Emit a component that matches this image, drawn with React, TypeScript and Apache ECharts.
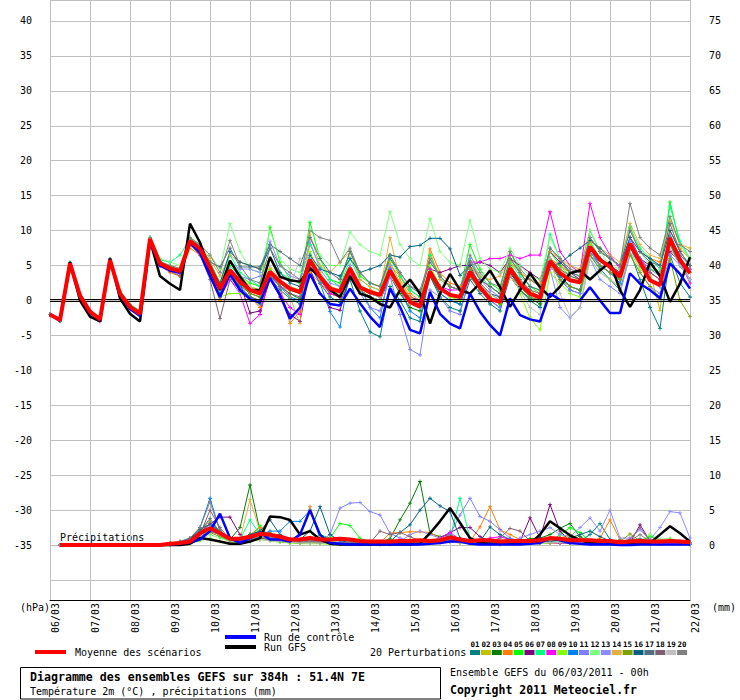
import React, { useEffect, useRef } from "react";
import * as echarts from "echarts";

// Time axis (hours since 06/03/2011 00h)
const HOURS = [0,6,12,18,24,30,36,42,48,54,60,66,72,78,84,90,96,102,108,114,120,126,132,138,144,150,156,162,168,174,180,186,192,198,204,210,216,222,228,234,240,246,252,258,264,270,276,282,288,294,300,306,312,318,324,330,336,342,348,354,360,366,372,378,384];
const DATE_LABELS = ["06/03","07/03","08/03","09/03","10/03","11/03","12/03","13/03","14/03","15/03","16/03","17/03","18/03","19/03","20/03","21/03","22/03"];
const LEFT_TICKS_MIN = -35;
const LEFT_TICKS_MAX = 40;
const RIGHT_TICKS_MIN = 0;
const RIGHT_TICKS_MAX = 75;

// 2m temperature (°C)
const MEAN_T = [-2.0,-2.8,5.3,0.7,-1.6,-2.7,5.8,1.0,-0.9,-1.9, 8.8,5.3,4.6,4.2, 8.5,7.4,4.8,1.7, 4.3,2.7,1.5,1.0, 4.1,2.7,1.7,1.2, 5.8,3.4,1.7,1.3, 4.6,1.9,1.2,0.8, 4.3,1.9,-0.2,-0.9, 4.1,1.7,0.8,0.5, 4.1,1.9,0.2,-0.2, 4.6,2.4,1.0,0.4, 5.6,3.9,2.9,2.6, 7.7,5.8,4.8,3.4, 8.1,5.5,2.9,2.2, 8.9,5.8,3.9];
const GFS_T = [-2.0,-2.8,5.5,0.0,-2.3,-3.0,6.0,0.3,-1.9,-3.0, 8.6,3.5,2.4,1.5, 11.0,8.3,4.3,1.5, 5.7,3.4,1.5,1.5, 6.2,3.4,2.9,2.7, 4.6,3.4,1.5,0.5, 3.5,1.0,0.5,-0.5, -1.0,1.5,3.0,1.0, -3.3,1.0,3.8,1.5, 1.0,2.5,4.3,1.9, -0.9,1.5,3.9,1.9, 0.5,2.0,3.9,4.3, 3.0,4.3,5.5,1.5, -0.9,1.5,5.5,3.5, -0.2,2.4,6.2];
const CTRL_T = [-2.0,-2.9,5.3,0.5,-1.8,-2.8,5.8,0.8,-1.2,-2.2, 8.5,5.0,4.3,4.0, 8.3,6.8,3.5,0.5, 3.8,1.5,0.2,-0.3, 3.2,0.8,-2.6,-1.0, 3.8,1.0,-0.5,-0.7, 1.7,-0.4,-2.3,-3.8, 1.7,-0.9,-4.2,-4.7, 1.2,-1.9,-3.3,-4.0, 1.0,-1.6,-3.5,-5.0, 0.3,-2.1,-2.7,-3.0, 1.0,0.1,0.0,0.0, 1.9,0.0,-1.8,-1.8, 3.9,2.4,1.5,0.3, 5.3,3.8,1.7];

const T01 = [-2.0,-2.9,5.3,0.6,-1.7,-2.7,5.8,1.0,-1.0,-2.0, 8.9,5.0,4.4,4.0, 8.0,7.0,4.0,0.5, 3.5,1.5,0.2,-0.5, 3.2,1.5,0.3,-0.5, 5.0,2.5,0.5,-0.3, 3.0,-1.5,-4.5,-5.2, 2.0,0.0,-2.5,-3.0, 3.5,0.5,-1.0,-1.5, 3.0,1.0,-0.5,-1.5, 3.5,1.5,0.0,-1.0, 6.0,3.0,1.5,1.0, 6.5,4.5,3.0,1.5, 7.0,3.0,-1.0,-4.0, 6.5,2.5,0.5];
const T02 = [-2.0,-2.8,5.4,0.8,-1.5,-2.5,5.9,1.2,-0.7,-1.6, 8.7,5.5,4.8,4.5, 8.8,7.8,5.5,2.5, 5.5,3.5,2.0,1.5, 4.5,3.0,2.0,1.5, 6.0,4.0,2.0,1.5, 5.0,2.0,1.5,1.0, 5.5,2.5,0.5,-0.5, 4.5,2.0,1.0,0.5, 4.5,2.5,1.0,0.0, 5.0,3.0,1.5,0.5, 6.0,4.5,3.0,2.5, 8.0,6.0,5.0,3.5, 9.0,6.0,4.0,-1.4, 9.5,6.0,4.0];
const T03 = [-2.0,-2.9,5.3,0.5,-1.9,-2.8,5.7,0.9,-1.1,-2.1, 8.8,5.2,4.5,4.1, 8.2,7.0,4.5,1.0, 3.8,2.2,1.0,0.5, 3.8,2.0,1.0,0.2, 5.5,3.0,1.0,0.5, 4.0,1.5,0.5,0.0, 3.5,1.0,-1.0,-1.5, 3.5,1.0,0.0,-0.5, 3.5,1.5,0.5,-0.5, 3.5,1.5,0.3,-0.5, 5.0,3.5,2.0,1.5, 7.0,5.0,4.0,3.0, 7.5,5.0,3.0,2.0, 8.0,5.0,3.0];
const T04 = [-2.0,-2.8,5.3,0.7,-1.6,-2.6,5.8,1.0,-1.0,-2.0, 8.6,5.0,4.0,3.5, 7.5,6.5,3.5,0.0, 4.0,2.0,0.5,-1.0, 4.5,2.0,-3.3,-1.5, 4.0,2.5,1.0,0.5, 5.0,2.0,1.5,1.0, 5.0,3.5,1.0,0.0, 7.4,4.0,2.5,2.0, 5.0,3.0,2.0,1.0, 5.5,4.0,3.0,2.0, 6.0,5.0,4.0,4.5, 10.0,7.0,6.0,5.0, 10.5,7.0,6.0,5.5, 10.0,7.4,6.0];
const T05 = [-2.0,-2.9,5.3,0.6,-1.7,-2.6,5.8,1.1,-0.8,-1.7, 9.0,5.5,5.0,4.5, 9.0,8.0,5.0,1.5, 5.0,3.5,2.5,2.0, 10.5,5.5,3.0,2.5, 11.2,6.0,3.0,2.5, 7.0,3.5,2.5,2.0, 6.5,3.5,1.5,0.5, 6.5,3.5,2.0,1.5, 8.0,4.5,2.5,1.5, 7.0,4.0,2.0,1.0, 7.0,5.0,3.5,3.0, 8.5,6.0,5.0,4.0, 9.0,6.0,4.5,4.0, 14.1,8.0,6.0];
const T06 = [-2.0,-2.8,5.3,0.7,-1.6,-2.6,5.8,1.0,-0.9,-1.8, 8.8,5.3,4.6,4.0, 8.3,7.2,5.0,2.5, 4.0,2.5,-1.8,-1.5, 3.0,0.5,-2.0,-3.0, 4.5,1.0,-1.0,-1.4, 3.5,1.5,0.5,0.0, 3.5,1.5,0.5,0.0, 4.5,4.0,4.5,5.0, 5.0,5.5,5.0,4.0, 6.0,5.0,4.0,3.0, 7.0,5.5,4.0,3.0, 7.5,6.0,5.0,4.0, 7.5,6.0,5.0,4.0, 7.0,5.5,4.5];
const T07 = [-2.0,-2.8,5.4,0.8,-1.5,-2.4,5.9,1.3,-0.6,-1.5, 9.0,5.8,5.5,6.5, 8.8,7.8,5.5,2.5, 6.5,4.0,3.0,2.0, 6.0,4.0,3.0,2.5, 8.0,5.0,3.0,2.0, 6.0,3.0,2.0,1.5, 6.0,3.5,1.5,0.5, 6.5,3.0,2.0,1.5, 6.0,3.5,2.0,1.0, 5.5,3.5,2.0,1.5, 9.5,6.0,4.0,3.5, 10.0,7.0,6.0,5.0, 10.5,7.5,6.0,4.5, 13.5,8.5,6.0];
const T08 = [-2.0,-2.9,5.3,0.5,-1.8,-3.0,5.7,0.9,-1.0,-1.9, 8.7,5.0,4.2,3.8, 8.0,6.8,4.0,0.5, 3.0,1.0,-3.3,-2.0, 3.5,1.0,-1.0,-2.0, 5.5,3.0,1.0,0.5, 4.0,1.5,0.5,0.0, 4.5,2.0,-0.5,-1.0, 4.5,2.0,1.5,1.5, 5.5,5.5,6.0,6.0, 6.5,6.0,6.5,6.5, 12.7,7.0,5.0,4.0, 13.9,9.0,6.5,4.5, 9.0,6.0,4.0,3.0, 9.0,5.5,2.5];
const T09 = [-2.0,-2.9,5.2,0.5,-1.8,-2.8,5.7,0.9,-1.0,-2.0, 8.8,5.2,4.5,4.0, 8.2,7.0,3.5,0.5, 1.0,1.0,0.5,0.0, 4.5,2.5,1.5,1.0, 7.0,3.5,1.5,1.0, 4.5,1.5,0.5,0.0, 4.0,1.5,-0.5,-1.0, 5.0,2.0,0.5,0.0, 4.5,2.0,0.5,-0.5, 6.0,1.0,-2.5,-4.2, 4.0,2.5,1.0,0.5, 6.0,4.0,3.0,2.0, 7.0,4.5,3.0,2.0, 8.5,5.0,3.0];
const T10 = [-2.0,-2.9,5.3,0.6,-1.7,-2.7,5.8,1.0,-0.9,-1.9, 8.8,5.1,4.5,4.1, 8.4,7.2,4.5,1.2, 3.5,2.0,0.5,0.0, 3.5,2.0,0.5,0.0, 5.0,2.5,-1.6,-3.8, 4.5,2.0,-1.0,-2.5, 4.5,1.5,-1.5,-2.5, 4.0,1.0,0.0,-0.5, 4.0,1.5,0.0,-1.0, 4.0,2.0,0.5,0.0, 5.5,3.5,2.0,1.5, 7.5,5.0,4.0,2.5, 7.5,5.0,3.0,2.0, 8.5,5.0,3.0];
const T11 = [-2.0,-2.8,5.3,0.7,-1.6,-2.6,5.8,1.0,-0.9,-1.9, 8.8,5.4,4.7,4.3, 8.6,7.5,5.0,2.0, 4.5,3.5,3.0,3.5, 4.0,2.0,1.5,1.0, 6.0,3.0,1.5,1.0, 4.5,1.0,-1.0,-1.5, 3.5,-2.0,-7.0,-7.8, 1.5,0.5,-1.5,-2.0, 4.0,1.5,0.0,-1.0, 4.5,2.0,0.5,0.0, 5.0,3.0,1.5,1.0, 7.0,5.0,4.0,3.0, 8.5,6.0,4.5,3.5, 9.5,5.5,3.0];
const T12 = [-2.0,-2.8,5.4,0.9,-1.4,-2.4,6.0,1.4,-0.5,-1.4, 9.0,6.0,5.5,5.0, 9.0,8.0,6.5,4.5, 11.0,7.0,4.5,4.0, 10.0,6.0,4.5,4.0, 9.0,6.5,5.0,5.0, 9.8,8.0,7.0,6.5, 12.7,8.0,6.0,5.0, 11.7,7.0,5.5,5.0, 11.5,6.0,4.5,4.0, 7.5,5.0,3.5,3.0, 9.0,6.0,4.0,3.5, 10.0,7.0,5.0,4.5, 11.0,7.0,5.0,4.0, 12.0,8.0,6.0];
const T13 = [-2.0,-2.9,5.3,0.6,-1.7,-2.7,5.8,1.0,-0.9,-1.9, 8.8,5.3,4.6,4.2, 8.5,7.5,5.0,2.0, 5.5,4.5,4.5,4.0, 8.5,5.0,3.5,3.0, 8.4,4.5,2.5,2.0, 5.0,2.0,1.0,0.5, 5.0,2.0,0.0,-1.0, 4.0,2.0,1.0,0.5, 6.0,3.0,1.5,0.5, 4.0,2.0,1.0,0.0, 4.5,-1.0,-2.5,-1.0, 6.0,3.0,2.0,1.0, 6.5,4.0,2.0,1.0, 6.5,5.0,4.5];
const T14 = [-2.0,-2.8,5.3,0.8,-1.5,-2.5,5.9,1.1,-0.7,-1.7, 8.9,5.5,4.8,4.5, 8.8,7.8,6.0,3.5, 6.5,5.5,5.0,4.5, 6.0,3.0,0.5,-3.3, 9.5,5.0,4.0,5.5, 7.0,3.0,2.0,1.5, 9.0,3.0,0.5,-0.5, 7.0,3.0,2.0,1.5, 5.5,3.5,3.0,3.5, 6.0,4.0,3.0,2.5, 7.0,6.0,5.0,4.5, 8.5,7.5,6.5,5.5, 11.0,8.0,6.5,6.0, 11.5,8.0,7.5];
const T15 = [-2.0,-2.9,5.3,0.6,-1.7,-2.7,5.8,1.0,-0.9,-1.9, 8.8,5.3,4.6,4.1, 8.4,7.3,4.5,1.5, 4.0,2.5,1.0,0.5, 4.0,2.5,1.5,1.0, 5.5,3.0,1.5,1.0, 4.5,2.0,1.0,0.5, 4.0,2.0,0.0,-0.5, 4.0,2.0,1.0,0.5, 3.5,1.5,0.5,-0.5, 3.5,2.0,0.5,0.0, 5.0,3.0,2.0,1.5, 6.5,5.0,4.0,3.0, 6.5,4.0,2.0,0.5, 6.0,0.0,-2.3];
const T16 = [-2.0,-2.8,5.3,0.7,-1.6,-2.6,5.8,1.0,-0.9,-1.8, 8.7,5.2,4.5,4.1, 8.3,7.0,5.0,2.5, 7.0,5.5,5.0,4.5, 7.5,4.0,2.5,2.0, 6.5,4.5,4.0,3.5, 6.0,4.0,4.5,5.0, 6.5,6.2,7.7,7.9, 8.9,8.9,7.4,3.6, 5.0,2.0,1.0,0.5, 4.0,2.0,1.0,0.5, 5.0,5.3,6.5,7.5, 8.6,7.5,6.0,5.0, 9.0,7.0,6.0,5.0, 10.0,7.0,5.0];
const T17 = [-2.0,-2.8,5.3,0.8,-1.5,-2.5,5.9,1.2,-0.7,-1.6, 8.8,5.4,4.8,4.4, 8.8,7.8,5.5,4.8, 7.5,4.8,4.8,4.8, 8.0,7.0,6.0,5.0, 9.0,6.0,4.0,3.0, 7.0,4.0,2.5,2.0, 6.0,4.0,2.0,1.0, 5.5,3.5,2.0,1.5, 5.5,3.0,2.0,1.0, 6.0,4.0,2.0,1.5, 7.5,6.0,4.0,3.5, 9.0,7.0,6.0,5.0, 10.0,7.0,5.5,5.0, 11.0,7.0,5.0];
const T18 = [-2.0,-2.9,5.3,0.6,-1.8,-2.8,5.7,0.9,-1.0,-2.0, 8.7,5.0,4.2,3.5, 8.0,6.5,3.0,-2.6, 3.0,1.5,0.5,0.0, 3.5,2.0,1.0,0.5, 5.0,3.0,1.5,1.0, 4.5,2.0,1.0,0.5, 4.0,2.0,0.0,-0.5, 4.0,2.0,1.0,0.5, 4.5,2.5,1.0,0.0, 5.0,3.0,1.5,1.0, 6.0,4.5,3.5,3.0, 7.5,6.0,5.0,4.0, 8.0,5.5,4.0,3.0, 9.0,6.5,5.0];
const T19 = [-2.0,-2.8,5.3,0.7,-1.6,-2.6,5.8,1.0,-0.9,-1.9, 8.8,5.3,4.6,4.2, 8.5,7.5,5.0,1.5, 4.0,3.0,2.0,1.0, 5.0,3.0,2.0,6.0, 5.5,3.0,1.5,1.0, 4.0,2.0,1.0,0.5, 3.5,1.5,0.0,-1.0, 4.0,2.0,1.0,0.5, 4.0,2.0,1.0,0.0, 3.5,1.5,-1.0,-2.0, 6.0,1.0,-2.3,-1.0, 6.0,4.0,3.0,2.0, 7.0,5.0,3.0,2.0, 7.5,5.0,3.0];
const T20 = [-2.0,-2.8,5.4,0.8,-1.5,-2.5,5.9,1.2,-0.6,-1.5, 9.0,5.6,5.0,4.6, 9.0,8.0,6.5,4.0, 8.6,5.0,3.0,2.5, 7.5,5.0,4.0,3.0, 10.0,9.0,8.6,5.5, 7.5,4.0,2.5,2.0, 6.5,4.0,2.0,1.5, 6.0,3.5,2.0,1.5, 6.5,4.0,2.5,2.0, 7.0,4.5,3.0,2.0, 7.5,6.0,4.5,4.0, 9.0,7.0,6.0,5.0, 13.9,9.0,7.5,6.5, 12.0,8.0,7.0];

// 6-hourly precipitation (mm); first 12 steps (no value at 0h, then dry)
const PREC_LEAD = [null,0,0,0,0,0,0,0,0,0,0,0];
const MEAN_R = [0.2,0.3,0.5,1.7,2.4,1.7,0.9,0.9,1.2,1.6, 1.5,1.2,0.8,0.8,1.0,0.8,0.8,0.9,0.8,0.6, 0.5,0.5,0.5,0.6,0.6,0.7,0.6,0.7,1.1,0.8, 0.6,0.7,0.7,0.5,0.6,0.6,0.6,0.7,1.0,0.9, 0.7,0.7,0.7,0.6,0.6,0.4,0.5,0.6,0.5,0.5, 0.6,0.5,0.4];
const GFS_R = [0.0,0.0,0.2,1.0,0.8,0.5,0.2,0.2,0.5,1.0, 4.1,4.0,3.6,1.5,2.0,0.8,0.2,0.1,0.1,0.1, 0.1,0.1,0.1,0.1,0.1,0.2,1.7,3.4,5.3,3.2, 1.0,0.3,0.2,0.2,0.2,0.2,0.2,1.5,3.4,2.4, 1.4,0.7,0.3,0.3,0.3,0.3,0.3,0.3,0.3,1.5, 2.7,1.7,0.5];
const CTRL_R = [0.1,0.2,0.4,0.8,2.0,4.5,1.0,0.3,1.0,1.8, 0.8,0.8,0.5,1.5,5.0,1.5,0.3,0.2,0.1,0.1, 0.1,0.1,0.1,0.1,0.1,0.1,0.2,0.3,0.5,0.5, 0.2,0.1,0.1,0.1,0.1,0.1,0.2,0.3,1.0,0.7, 0.3,0.2,0.1,0.1,0.1,0.0,0.0,0.1,0.1,0.1, 0.1,0.1,0.1];
const R01 = [0.2,0.4,0.8,2.0,3.5,1.5,0.8,0.6,1.5,2.0, 1.5,0.8,0.5,0.3,0.8,0.5,0.3,0.2,0.2,0.2, 0.2,0.2,0.3,0.5,0.6,0.5,0.4,0.6,0.8,0.5, 0.3,0.2,0.2,0.2,0.3,0.5,0.6,0.3,0.5,0.4, 0.3,0.6,1.5,3.1,0.8,0.4,0.3,0.3,0.2,0.2, 0.3,0.2,0.1];
const R02 = [0.1,0.3,0.5,1.5,2.0,1.5,0.5,0.8,1.0,1.2, 1.8,1.0,0.6,0.5,1.0,0.6,0.4,0.3,0.2,0.2, 0.2,0.1,0.1,0.2,0.3,0.3,0.4,0.5,0.6,0.4, 0.3,0.3,0.2,0.1,0.2,0.3,0.3,0.2,0.6,1.0, 1.5,0.8,0.3,0.2,0.3,0.4,0.5,0.5,0.8,0.6, 0.5,0.3,0.2];
const R03 = [0.2,0.3,0.6,1.2,2.0,1.5,0.8,2.5,8.6,2.0, 1.0,0.6,0.5,0.4,0.8,0.6,0.5,0.8,0.6,0.5, 0.5,0.4,0.9,3.6,6.0,9.1,1.7,1.2,1.5,0.8, 0.5,0.4,0.3,0.3,0.5,0.7,0.9,1.0,1.5,2.4, 3.1,1.2,0.5,0.3,0.3,0.2,0.3,0.4,0.5,0.4, 0.5,0.3,0.2];
const R04 = [0.1,0.3,0.8,2.2,3.0,1.5,0.5,0.4,1.5,2.5, 1.2,0.8,0.6,1.5,5.5,1.0,0.5,0.3,0.3,0.2, 0.2,0.3,1.7,1.8,1.9,1.9,1.8,1.0,0.5,0.4, 0.5,2.6,5.5,2.2,1.5,0.8,0.5,0.3,0.3,0.3, 0.4,0.3,0.3,1.0,3.6,0.8,0.4,0.3,0.3,0.2, 0.3,0.3,0.2];
const R05 = [0.2,0.3,0.5,1.0,2.5,1.8,0.6,0.5,1.0,2.8, 1.0,0.5,0.4,0.3,0.6,1.5,1.0,3.1,2.8,1.0, 0.3,0.2,0.2,0.3,0.4,0.4,0.3,0.5,0.6,0.4, 0.5,0.3,0.3,0.2,0.2,0.3,0.4,0.3,0.4,1.5, 2.5,1.8,0.6,0.4,0.3,0.3,0.3,0.4,1.2,0.8, 0.5,0.4,0.3];
const R06 = [0.1,0.3,0.6,1.8,3.0,4.0,4.0,1.5,0.6,0.8, 1.0,0.8,0.5,0.4,0.5,0.4,0.3,0.3,0.3,0.2, 0.2,0.2,0.2,0.3,0.4,0.5,0.5,1.0,1.8,2.5, 2.5,1.2,0.5,0.3,0.4,0.5,3.9,1.0,5.8,2.0, 0.6,0.4,0.3,0.3,0.3,0.3,0.3,2.9,0.6,0.3, 0.3,0.2,0.2];
const R07 = [0.1,0.3,0.6,1.5,2.5,1.2,0.6,0.8,3.6,1.5, 1.0,0.6,0.5,0.4,0.5,0.4,0.3,0.3,0.2,0.2, 0.2,0.2,0.3,0.3,0.3,0.3,0.3,0.5,1.0,6.7, 1.0,0.6,0.4,0.3,0.3,0.3,0.4,0.3,0.4,0.5, 0.5,0.4,0.3,0.3,0.3,0.3,0.4,0.5,0.6,0.5, 0.6,0.4,0.3];
const R08 = [0.1,0.2,0.5,1.2,2.0,1.5,0.8,0.6,0.8,1.0, 0.8,0.6,0.4,0.3,0.3,0.3,0.2,0.2,0.2,0.2, 0.2,0.2,0.2,0.2,0.3,0.3,0.5,1.0,1.8,0.8, 0.6,0.5,1.0,1.2,0.8,0.5,0.4,0.3,0.3,0.3, 0.3,0.3,0.2,0.2,0.3,0.3,0.2,0.2,0.2,0.2, 0.3,0.2,0.2];
const R09 = [0.0,0.1,0.3,0.6,1.0,0.5,0.3,0.3,0.5,0.8, 0.6,0.4,0.3,0.2,0.2,0.2,0.1,0.1,0.1,0.1, 0.1,0.1,0.2,0.2,0.2,0.3,0.3,0.4,0.5,0.3, 0.2,0.2,0.2,0.1,0.2,0.3,0.3,0.2,0.3,0.4, 0.4,0.3,0.3,0.2,0.3,0.3,0.4,0.3,1.5,0.6, 0.5,0.3,0.2];
const R10 = [0.2,0.5,1.0,2.5,6.7,2.0,0.8,0.7,1.0,1.5, 2.0,2.0,3.4,3.4,5.0,1.0,0.5,0.4,0.3,0.3, 0.2,0.2,0.2,0.3,0.3,0.3,0.4,0.5,0.6,0.4, 0.3,0.2,0.2,0.2,0.3,0.3,0.4,0.3,0.5,0.4, 0.3,0.3,0.2,0.2,0.3,0.3,0.3,0.3,0.2,0.2, 0.3,0.2,0.2];
const R11 = [0.1,0.2,0.5,1.0,2.0,1.5,0.6,0.5,0.8,1.0, 0.8,0.6,0.5,0.4,0.5,0.6,1.5,5.3,6.0,6.1, 4.8,4.3,1.7,1.0,0.6,0.5,0.5,0.8,1.5,4.3, 6.7,4.1,3.4,2.2,1.0,0.6,0.5,0.4,0.5,0.4, 0.3,0.3,0.3,0.3,0.4,0.3,0.3,0.3,0.2,0.2, 0.3,0.2,0.2];
const R12 = [0.0,0.2,0.4,0.8,1.5,1.0,0.5,0.4,0.6,0.8, 0.8,0.5,0.4,0.3,0.3,0.3,0.2,0.2,0.2,0.2, 0.1,0.1,0.2,0.2,0.2,0.3,0.3,0.5,0.8,0.6, 0.4,0.3,0.3,0.2,0.3,0.3,0.3,0.3,0.4,0.5, 0.5,0.4,0.3,0.3,0.4,0.4,0.5,0.6,1.5,0.8, 1.0,0.5,0.3];
const R13 = [0.2,0.4,0.8,1.5,3.0,2.0,0.8,0.6,1.0,1.2, 1.0,0.6,0.5,0.4,0.4,0.4,0.3,0.3,0.2,0.2, 0.2,0.2,0.3,0.5,1.5,2.0,1.5,1.0,0.8,0.5, 0.4,0.4,0.4,0.3,0.5,1.0,1.5,2.0,2.5,1.5, 1.2,2.5,3.9,2.0,5.0,1.0,1.0,2.2,0.8,2.5, 4.8,4.6,1.0];
const R14 = [0.1,0.3,0.7,1.8,3.5,2.0,0.8,0.8,6.5,2.0, 1.2,0.8,0.6,1.5,5.5,1.2,0.5,0.4,0.3,0.3, 0.2,0.2,0.2,0.3,0.3,0.3,0.4,0.4,0.5,0.4, 0.4,0.3,0.3,0.2,0.3,0.4,0.5,0.5,0.8,1.0, 1.2,0.8,0.5,0.4,0.5,0.4,0.4,0.5,0.4,0.3, 0.4,0.3,0.2];
const R15 = [0.1,0.2,0.5,1.0,1.8,1.2,0.6,0.5,0.7,1.0, 0.8,0.5,0.4,0.3,0.4,0.3,0.3,0.2,0.2,0.2, 0.2,0.2,0.2,0.2,0.3,0.3,0.3,0.4,0.6,0.5, 0.4,0.3,0.3,0.3,0.3,0.3,0.4,0.4,0.6,0.8, 1.0,0.8,0.5,0.4,0.5,0.5,1.6,0.6,0.5,0.4, 0.8,0.6,0.3];
const R16 = [0.2,0.4,0.9,2.2,3.0,2.0,1.0,0.8,1.5,2.0, 3.6,1.5,0.8,0.8,2.0,5.5,1.5,0.6,0.4,0.3, 0.3,0.3,0.5,1.8,2.9,5.0,6.7,5.6,4.8,1.0, 0.6,0.5,2.6,1.5,0.8,0.6,0.5,0.4,0.5,0.8, 1.0,1.5,2.0,1.2,0.6,0.4,0.4,0.5,0.4,0.3, 0.4,0.3,0.2];
const R17 = [0.2,0.4,0.8,2.0,3.8,1.8,0.8,0.6,1.0,1.5, 1.2,0.8,0.6,0.5,0.6,0.5,0.4,0.3,0.3,0.3, 0.2,0.2,0.3,0.3,0.4,0.4,0.4,0.5,0.6,0.5, 0.4,0.4,0.3,0.3,0.4,0.5,0.5,0.6,0.8,0.8, 1.0,0.8,0.6,0.5,0.6,0.6,0.7,0.9,0.6,0.5, 0.6,0.4,0.3];
const R18 = [0.1,0.3,0.6,1.5,5.0,2.5,0.8,0.6,0.8,1.0, 0.8,0.6,0.5,0.4,0.5,0.4,0.3,0.3,0.3,0.3, 0.3,2.0,1.5,1.8,1.2,0.6,0.5,0.5,0.5,0.4, 0.4,0.4,0.5,1.0,2.4,2.0,0.6,0.4,0.4,0.3, 0.3,0.3,0.3,0.3,0.4,0.5,0.8,2.5,0.6,0.4, 0.4,0.3,0.2];
const R19 = [0.1,0.2,0.5,1.2,2.5,1.5,0.6,0.5,0.6,0.8, 0.6,0.5,0.4,0.3,0.3,0.3,0.2,0.2,0.2,0.2, 0.2,0.2,0.2,0.2,0.3,0.3,0.3,0.3,0.4,0.3, 0.3,0.3,0.2,0.2,0.3,0.3,0.3,0.3,0.4,0.4, 0.4,0.3,0.3,0.3,0.3,0.3,0.3,0.3,0.3,0.3, 0.3,0.3,0.2];
const R20 = [0.2,0.5,1.0,2.5,6.2,2.0,0.8,0.7,1.0,1.2, 1.0,0.7,0.5,0.5,0.6,0.5,0.4,0.3,0.3,0.3, 0.3,0.3,0.3,0.3,0.4,0.4,0.5,0.6,0.7,0.5, 0.5,0.4,0.4,0.3,0.4,0.5,0.5,0.5,0.7,1.0, 0.8,0.6,0.5,0.4,0.5,0.5,0.6,1.5,0.5,0.4, 0.5,0.4,0.3];

const MEMBER_NAMES = ["01","02","03","04","05","06","07","08","09","10","11","12","13","14","15","16","17","18","19","20"];
const MEMBER_COLORS = ["#008080","#c0c000","#008000","#ff8000","#00ff00","#800080","#00ff80","#ff00ff","#80ff00","#0080ff","#8080ff","#80ff80","#8c8cff","#e0b040","#80a000","#006080","#507080","#806070","#c0c0c0","#808080"];
const PERT_T = [T01,T02,T03,T04,T05,T06,T07,T08,T09,T10,T11,T12,T13,T14,T15,T16,T17,T18,T19,T20];
const PERT_R = [R01,R02,R03,R04,R05,R06,R07,R08,R09,R10,R11,R12,R13,R14,R15,R16,R17,R18,R19,R20];

const MONO = '"DejaVu Sans Mono", monospace';
const PLUS = "path://M2,0H3V2H5V3H3V5H2V3H0V2H2Z";

const pairs = (arr: (number | null)[]) => HOURS.map((h, i) => [h, arr[i]]);
const precip = (arr: number[]) => pairs([...PREC_LEAD, ...arr]);

export default function App() {
  const ref = useRef<HTMLDivElement>(null);
  useEffect(() => {
    if (!ref.current) return;
    const chart = echarts.init(ref.current, undefined, { renderer: "svg" });

    const series: any[] = [];
    PERT_T.forEach((arr, k) => {
      const s: any = {
        type: "line", name: "T" + MEMBER_NAMES[k], data: pairs(arr), yAxisIndex: 0,
        symbol: PLUS, symbolSize: 4, showSymbol: true,
        lineStyle: { color: MEMBER_COLORS[k], width: 1 }, itemStyle: { color: MEMBER_COLORS[k] },
        z: 2, silent: true,
      };
      if (k === 0) {
        s.markLine = {
          silent: true, symbol: "none", label: { show: false },
          lineStyle: { color: "#000", width: 1, type: "solid" },
          data: [{ yAxis: 0.17 }, { yAxis: -0.17 }],
        };
      }
      series.push(s);
    });
    PERT_R.forEach((arr, k) => {
      series.push({
        type: "line", name: "R" + MEMBER_NAMES[k], data: precip(arr), yAxisIndex: 1,
        symbol: PLUS, symbolSize: 4, showSymbol: true,
        lineStyle: { color: MEMBER_COLORS[k], width: 1 }, itemStyle: { color: MEMBER_COLORS[k] },
        z: 2, silent: true,
      });
    });
    const thick = (name: string, data: any[], yi: number, color: string, width: number, z: number) => ({
      type: "line", name, data, yAxisIndex: yi, showSymbol: false, symbol: "none",
      lineStyle: { color, width }, itemStyle: { color }, z, silent: true,
    });
    series.push(thick("GFS T", pairs(GFS_T), 0, "#000000", 2.5, 3));
    series.push(thick("GFS R", precip(GFS_R), 1, "#000000", 2.5, 3));
    series.push(thick("Ctrl T", pairs(CTRL_T), 0, "#0000ff", 2.5, 4));
    series.push(thick("Ctrl R", precip(CTRL_R), 1, "#0000ff", 2.5, 4));
    series.push(thick("Mean T", pairs(MEAN_T), 0, "#ff0000", 4, 5));
    series.push(thick("Mean R", precip(MEAN_R), 1, "#ff0000", 4, 5));

    const txt = (text: string, x: number, y: number, size = 10, bold = false, align = "left") => ({
      type: "text", x, y, silent: true,
      style: {
        text, fill: "#000000", font: `${bold ? "bold " : ""}${size}px ${MONO}`,
        align, verticalAlign: "middle", textAlign: align, textVerticalAlign: "middle",
      },
    });

    const graphic: any[] = [
      txt("(hPa)", 20, 607),
      txt("(mm)", 712, 607),
      txt("Précipitations", 60, 537),
      { type: "rect", shape: { x: 35, y: 650, width: 31, height: 4 }, style: { fill: "#ff0000" }, silent: true },
      txt("Moyenne des scénarios", 75, 652),
      { type: "rect", shape: { x: 225, y: 635, width: 31, height: 4 }, style: { fill: "#0000ff" }, silent: true },
      txt("Run de contrôle", 264, 637),
      { type: "rect", shape: { x: 225, y: 645, width: 31, height: 4 }, style: { fill: "#000000" }, silent: true },
      txt("Run GFS", 264, 647),
      txt("20 Perturbations", 370, 652),
      { type: "rect", shape: { x: 20.5, y: 667.5, width: 420, height: 31.5 }, style: { fill: "none", stroke: "#000", lineWidth: 1 }, silent: true },
      txt("Diagramme des ensembles GEFS sur 384h : 51.4N 7E", 30, 677, 11.6, true),
      txt("Température 2m (°C) , précipitations (mm)", 30, 691),
      txt("Ensemble GEFS du 06/03/2011 - 00h", 450, 672),
      txt("Copyright 2011 Meteociel.fr", 450, 690, 11.5, true),
    ];
    MEMBER_NAMES.forEach((n, k) => {
      const x0 = 470 + k * 10.9;
      graphic.push({ type: "rect", shape: { x: x0, y: 650, width: 10, height: 5 }, style: { fill: MEMBER_COLORS[k] }, silent: true });
      graphic.push(txt(n, x0 + 5, 644, 7.5, true, "center"));
    });

    const isTick = (v: number) => Math.abs(v / 5 - Math.round(v / 5)) < 1e-6;

    chart.setOption({
      animation: false,
      backgroundColor: "#ffffff",
      grid: { left: 50, right: 50, top: -1, bottom: 100, containLabel: false },
      xAxis: {
        type: "value", min: 0, max: 384, interval: 24,
        axisLine: { show: true, onZero: false, lineStyle: { color: "#000", width: 1 } },
        axisTick: { show: false },
        splitLine: { show: true, lineStyle: { color: "#c0c0c0", width: 1 } },
        axisLabel: {
          rotate: 90, margin: 3, color: "#000", fontFamily: MONO, fontSize: 10,
          showMinLabel: true, showMaxLabel: true, verticalAlign: "top",
          formatter: (v: number) => DATE_LABELS[Math.round(v / 24)] ?? "",
        },
      },
      yAxis: [
        {
          type: "value", min: -42.857, max: 43.0, splitNumber: 17, position: "left",
          axisLine: { show: false }, axisTick: { show: false },
          splitLine: { show: true, lineStyle: { color: "#c0c0c0", width: 1 } },
          axisLabel: {
            margin: 18, color: "#000", fontFamily: MONO, fontSize: 10, showMinLabel: true, showMaxLabel: true,
            formatter: (v: number) => (isTick(v) && v >= LEFT_TICKS_MIN && v <= LEFT_TICKS_MAX ? String(Math.round(v)) : ""),
          },
        },
        {
          type: "value", min: -7.857, max: 78.0, splitNumber: 17, position: "right",
          axisLine: { show: false }, axisTick: { show: false }, splitLine: { show: false },
          axisLabel: {
            margin: 19, color: "#000", fontFamily: MONO, fontSize: 10, showMinLabel: true, showMaxLabel: true,
            formatter: (v: number) => (isTick(v) && v >= RIGHT_TICKS_MIN && v <= RIGHT_TICKS_MAX ? String(Math.round(v)) : ""),
          },
        },
      ],
      series,
      graphic,
    });
    return () => chart.dispose();
  }, []);

  return <div ref={ref} style={{ position: "fixed", left: 0, top: 0, width: 740, height: 700, background: "#fff" }} />;
}
